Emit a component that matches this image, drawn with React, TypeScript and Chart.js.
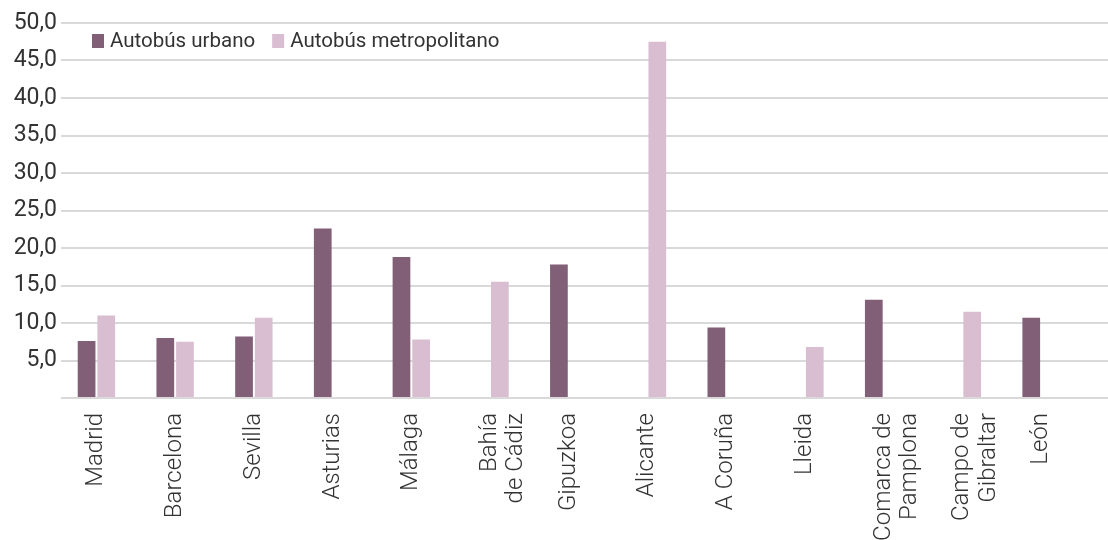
import React, { useEffect, useRef } from "react";
import { Chart, registerables } from "chart.js";

Chart.register(...registerables);

const categories: (string | string[])[] = [
  "Madrid",
  "Barcelona",
  "Sevilla",
  "Asturias",
  "Málaga",
  ["Bahía", "de Cádiz"],
  "Gipuzkoa",
  "Alicante",
  "A Coruña",
  "Lleida",
  ["Comarca de", "Pamplona"],
  ["Campo de", "Gibraltar"],
  "León",
];

const urbano: (number | null)[] = [7.6, 8.0, 8.2, 22.6, 18.8, null, 17.8, null, 9.4, null, 13.1, null, 10.7];
const metropolitano: (number | null)[] = [11.0, 7.5, 10.7, null, 7.8, 15.5, null, 47.5, null, 6.8, null, 11.5, null];

const seriesNames = ["Autobús urbano", "Autobús metropolitano"];
const seriesColors = ["#805f77", "#d9bed1"];

const FONT = "Roboto";
const TEXT = "#333333";

const legendPlugin = {
  id: "insideLegend",
  afterDraw(chart: any) {
    const ctx = chart.ctx;
    ctx.save();
    ctx.font = `20.5px ${FONT}`;
    ctx.textBaseline = "middle";
    ctx.textAlign = "left";
    let x = 92;
    const yTop = 34;
    chart.data.datasets.forEach((ds: any) => {
      ctx.fillStyle = ds.backgroundColor;
      ctx.fillRect(x, yTop, 12, 14);
      ctx.fillStyle = TEXT;
      ctx.fillText(ds.label, x + 18, yTop + 8);
      x += 18 + ctx.measureText(ds.label).width + 17;
    });
    ctx.restore();
  },
};

export default function App() {
  const ref = useRef<HTMLCanvasElement | null>(null);

  useEffect(() => {
    if (!ref.current) return;
    const chart = new Chart(ref.current, {
      type: "bar",
      data: {
        datasets: [
          {
            label: seriesNames[0],
            data: urbano.map((v, i) => ({ x: i, y: v })) as any,
            backgroundColor: seriesColors[0],
            categoryPercentage: 0.5,
            barPercentage: 0.9,
          },
          {
            label: seriesNames[1],
            data: metropolitano.map((v, i) => ({ x: i, y: v })) as any,
            backgroundColor: seriesColors[1],
            categoryPercentage: 0.5,
            barPercentage: 0.9,
          },
        ],
      },
      options: {
        responsive: false,
        animation: false,
        devicePixelRatio: 1,
        layout: { padding: { top: 23, right: 0, left: 0, bottom: 0 } },
        plugins: {
          legend: { display: false },
          tooltip: { enabled: false },
        },
        scales: {
          x: {
            type: "linear",
            min: -0.45,
            max: 12.85,
            offset: false,
            grid: { display: false, drawTicks: false },
            border: { display: false },
            afterBuildTicks: (scale: any) => {
              scale.ticks = categories.map((_, i) => ({ value: i }));
            },
            afterFit: (scale: any) => {
              scale.height = 142;
            },
            ticks: {
              autoSkip: false,
              minRotation: 90,
              maxRotation: 90,
              padding: 15,
              color: TEXT,
              font: { family: FONT, size: 24, weight: "300", lineHeight: 1.1 },
              callback: (value: any) => categories[value as number] ?? "",
            },
          },
          y: {
            min: 0,
            max: 50,
            grid: { color: "#d9d9d9", lineWidth: 2, drawTicks: false },
            border: { display: false },
            afterFit: (scale: any) => {
              scale.width = 61;
            },
            ticks: {
              stepSize: 5,
              padding: 4,
              color: TEXT,
              font: { family: FONT, size: 23 },
              callback: (value: any) =>
                value === 0 ? "" : Number(value).toFixed(1).replace(".", ","),
            },
          },
        },
      },
      plugins: [legendPlugin],
    });
    return () => chart.destroy();
  }, []);

  return (
    <div style={{ position: "absolute", left: 0, top: 0, width: 1108, height: 540, background: "#fff" }}>
      <canvas ref={ref} width={1108} height={540} />
    </div>
  );
}
